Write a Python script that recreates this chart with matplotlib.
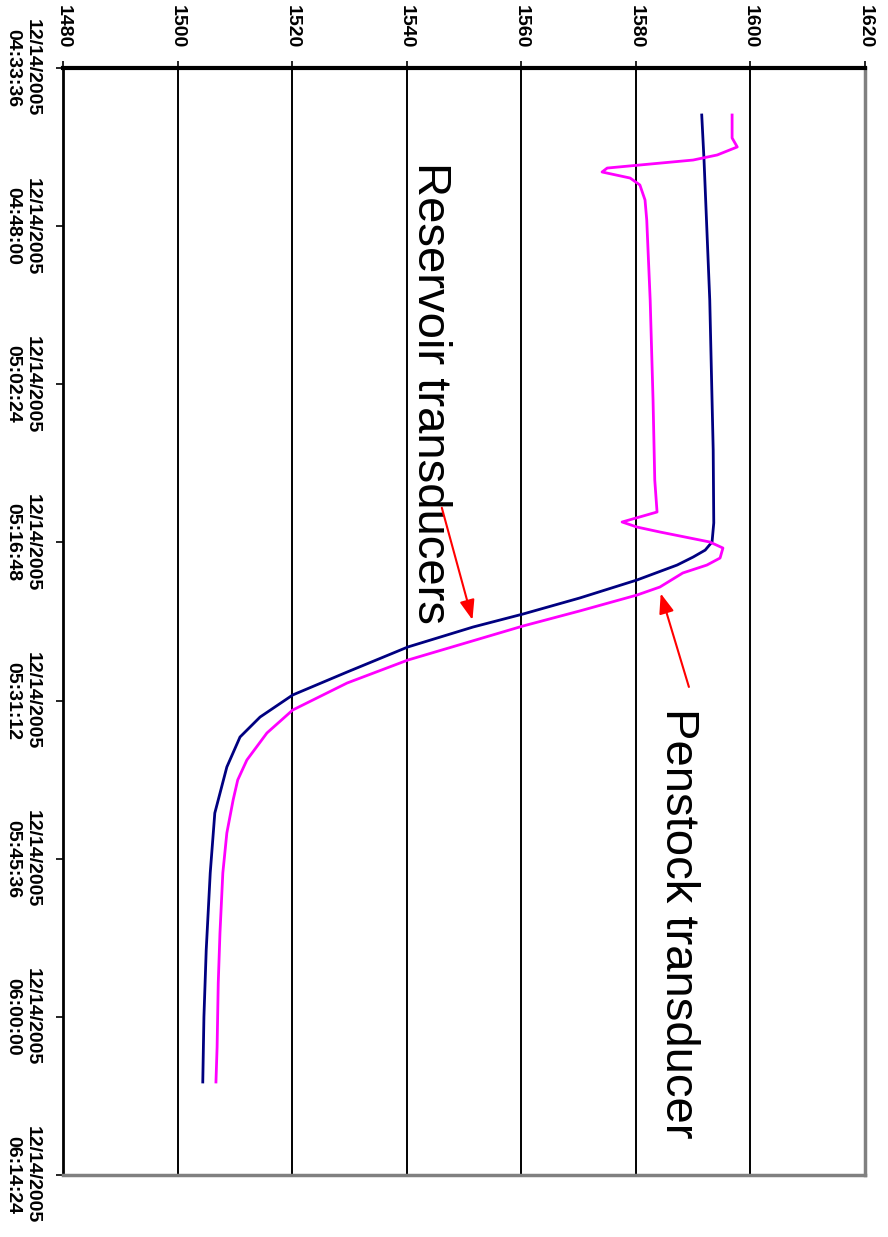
import matplotlib
matplotlib.use("Agg")
import matplotlib.pyplot as plt

# Elevation axis
elev_ticks = [1480, 1500, 1520, 1540, 1560, 1580, 1600, 1620]
# Time axis (minutes after 04:33:36)
time_ticks = [0, 14.4, 28.8, 43.2, 57.6, 72.0, 86.4, 100.8]
time_labels = ["12/14/2005\n04:33:36", "12/14/2005\n04:48:00", "12/14/2005\n05:02:24",
               "12/14/2005\n05:16:48", "12/14/2005\n05:31:12", "12/14/2005\n05:45:36",
               "12/14/2005\n06:00:00", "12/14/2005\n06:14:24"]

# Reservoir transducers (navy)
res_t = [4.28, 8.38, 21.13, 34.78, 41.43, 43.16, 43.90, 44.53, 45.26, 46.62, 48.26, 49.72,
         50.90, 52.72, 55.00, 57.09, 59.10, 60.92, 63.65, 67.84, 73.30, 80.31, 86.41, 92.33]
res_v = [1591.5, 1591.9, 1592.9, 1593.5, 1593.6, 1593.3, 1592.1, 1590.0, 1587.2, 1580.2,
         1570.2, 1560.3, 1551.6, 1540.2, 1529.6, 1520.1, 1514.4, 1510.9, 1508.6, 1506.5,
         1505.7, 1505.0, 1504.6, 1504.4]

# Penstock transducer (magenta)
pen_t = [4.28, 6.37, 7.19, 7.92, 8.38, 9.11, 9.47, 10.02, 10.65, 12.02, 13.84, 21.13,
         30.23, 37.52, 40.43, 41.34, 41.80, 42.25, 43.16, 43.71, 44.62, 45.26, 45.98,
         47.26, 47.99, 49.44, 50.81, 53.91, 56.00, 58.46, 60.55, 63.01, 64.83, 66.65,
         69.66, 73.30, 78.77, 83.32, 89.15, 92.33]
pen_v = [1596.8, 1596.8, 1597.7, 1594.2, 1590.0, 1575.0, 1574.1, 1579.0, 1580.7, 1581.6,
         1581.9, 1582.5, 1583.0, 1583.3, 1583.7, 1577.6, 1580.2, 1584.2, 1592.9, 1595.2,
         1594.7, 1592.4, 1588.2, 1584.2, 1580.2, 1570.2, 1560.3, 1540.2, 1529.6, 1520.1,
         1515.6, 1512.1, 1510.5, 1509.7, 1508.6, 1507.9, 1507.4, 1507.1, 1506.9, 1506.7]

fig = plt.figure(figsize=(8.88, 12.37), dpi=100)
ax = fig.add_axes([63/888, 1 - 1175/1237, (865 - 63)/888, (1175 - 68)/1237])

ax.plot(res_v, res_t, color="#000080", lw=2.0, zorder=3)
ax.plot(pen_v, pen_t, color="#FF00FF", lw=2.0, zorder=3)

ax.set_xlim(1480, 1620)
ax.set_ylim(100.8, 0)

ax.xaxis.tick_top()
ax.set_xticks(elev_ticks)
ax.set_xticklabels([str(v) for v in elev_ticks], rotation=270,
                   fontfamily="Liberation Sans", fontweight="bold", fontsize=14)
ax.set_yticks(time_ticks)
ax.set_yticklabels(time_labels, rotation=270, va="center", ha="right",
                   multialignment="center",
                   fontfamily="Liberation Sans", fontweight="bold", fontsize=14)
ax.tick_params(axis="x", length=5, width=1.2, pad=9, color="black")
ax.tick_params(axis="y", length=5, width=1.2, pad=11, color="black")

for v in elev_ticks[1:-1]:
    ax.axvline(v, color="black", lw=1.4, zorder=1)

ax.spines["top"].set_linewidth(3)
ax.spines["top"].set_color("black")
ax.spines["left"].set_linewidth(2)
ax.spines["left"].set_color("black")
ax.spines["right"].set_linewidth(2.5)
ax.spines["right"].set_color("#808080")
ax.spines["bottom"].set_linewidth(2.5)
ax.spines["bottom"].set_color("#808080")

ax.text(1544.0, 8.6, "Reservoir transducers", rotation=270, ha="center", va="top",
        fontfamily="Liberation Sans", fontsize=34)
ax.text(1587.3, 58.3, "Penstock transducer", rotation=270, ha="center", va="top",
        fontfamily="Liberation Sans", fontsize=34)

arrow_style = dict(arrowstyle="-|>,head_length=1.2,head_width=0.45", color="#FF0000", lw=1.5)
ax.annotate("", xy=(1551.6, 50.5), xytext=(1546.0, 39.8), arrowprops=arrow_style)
ax.annotate("", xy=(1584.2, 47.6), xytext=(1589.4, 56.6), arrowprops=arrow_style)

fig.savefig("out.png", dpi=100)
